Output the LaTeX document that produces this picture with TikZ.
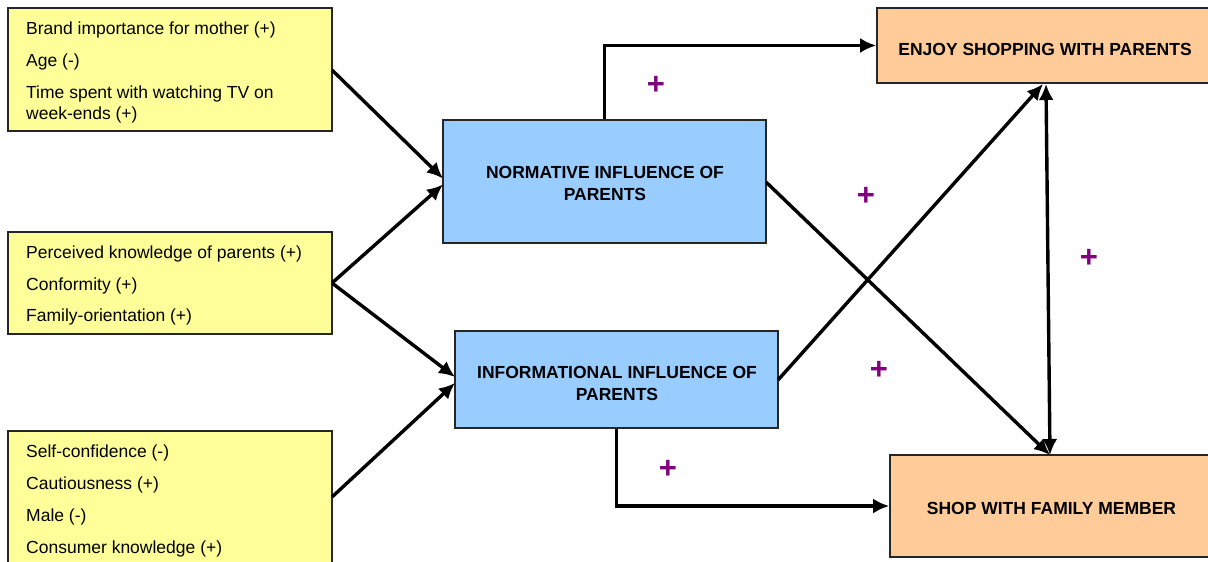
\documentclass[tikz,border=0pt]{standalone}
\usepackage{fontspec}
\setmainfont{Liberation Sans}
\usetikzlibrary{arrows.meta,calc}
\definecolor{ybox}{HTML}{FFFF99}
\definecolor{bbox}{HTML}{99CCFF}
\definecolor{obox}{HTML}{FFCC99}
\definecolor{plusc}{HTML}{800080}
\tikzset{
  factorbox/.style={draw=black!85, line width=1.6pt, fill=ybox, inner sep=0pt},
  midbox/.style={draw=black!85, line width=1.6pt, fill=bbox, inner sep=0pt},
  outbox/.style={draw=black!85, line width=1.6pt, fill=obox, inner sep=0pt},
  itemtxt/.style={anchor=west, inner sep=0pt, font=\fontsize{17.5}{21}\selectfont, align=left},
  boldtxt/.style={inner sep=0pt, font=\fontsize{17.5}{22}\selectfont\bfseries, align=center},
  plustxt/.style={inner sep=0pt, text=plusc, font=\fontsize{31}{31}\selectfont\bfseries},
  conn/.style={line width=3.4pt, -{Latex[length=16pt,width=15pt]}},
  conn2/.style={line width=3.4pt, {Latex[length=16pt,width=15pt]}-{Latex[length=16pt,width=15pt]}},
}
\begin{document}
\begin{tikzpicture}[x=1pt,y=-1pt]
\useasboundingbox (0,0) rectangle (1208,562);
\clip (0,0) rectangle (1208,562);
\fill[white] (0,0) rectangle (1208,562);
% boxes
\node[factorbox, minimum width=324pt, minimum height=123pt] (Y1) at (170,69.5) {};
\node[factorbox, minimum width=324pt, minimum height=102pt] (Y2) at (170,283) {};
\node[factorbox, minimum width=324pt, minimum height=168pt] (Y3) at (170,515) {};
\node[midbox, minimum width=323pt, minimum height=123pt] (B1) at (604.5,181.5) {};
\node[midbox, minimum width=323pt, minimum height=97pt] (B2) at (616.5,379.5) {};
\node[outbox, minimum width=363pt, minimum height=75pt] (O1) at (1058.5,45.5) {};
\node[outbox, minimum width=350pt, minimum height=102pt] (O2) at (1065,506) {};
% texts
\node[itemtxt] (t1) at (26,29.5) {Brand importance for mother (+)};
\node[itemtxt] (t2) at (26,61.5) {Age (-)};
\node[itemtxt] (t3) at (26,104) {Time spent with watching TV on\\week-ends (+)};
\node[itemtxt] (t4) at (26,253.5) {Perceived knowledge of parents (+)};
\node[itemtxt] (t5) at (26,285.5) {Conformity (+)};
\node[itemtxt] (t6) at (26,316.5) {Family-orientation (+)};
\node[itemtxt] (t7) at (26,452.5) {Self-confidence (-)};
\node[itemtxt] (t8) at (26,484.5) {Cautiousness (+)};
\node[itemtxt] (t9) at (26,516.5) {Male (-)};
\node[itemtxt] (t10) at (26,548.5) {Consumer knowledge (+)};
\node[boldtxt] (tb1) at (605,183) {NORMATIVE INFLUENCE OF\\PARENTS};
\node[boldtxt] (tb2) at (617,383) {INFORMATIONAL INFLUENCE OF\\PARENTS};
\node[boldtxt] (to1) at (1045,49) {ENJOY SHOPPING WITH PARENTS};
\node[boldtxt] (to2) at (1051.5,508) {SHOP WITH FAMILY MEMBER};
% anchor coordinates
\coordinate (y1o) at (332,70);
\coordinate (y2o) at (332,283);
\coordinate (y3o) at (332,497);
\coordinate (b1a) at (443,178.5);
\coordinate (b1b) at (443,184.5);
\coordinate (b2a) at (455,377);
\coordinate (b2b) at (455,383);
\coordinate (b1o) at (766,182);
\coordinate (b2o) at (778,380);
\coordinate (o1in) at (1043,84);
\coordinate (o1d) at (1046,84);
\coordinate (o2in) at (1050,455);
% connectors
\draw[conn] (y1o) -- (b1a);
\draw[conn] (y2o) -- (b1b);
\draw[conn] (y2o) -- (b2a);
\draw[conn] (y3o) -- (b2b);
\draw[conn] (B1.north) |- (O1.west);
\draw[conn] (B2.south) |- (O2.west);
\draw[conn] (b1o) -- (o2in);
\draw[conn] (b2o) -- (o1in);
\draw[conn2] (o1d) -- (o2in);
% plus signs
\node[plustxt] (p1) at (656,85) {+};
\node[plustxt] (p2) at (866,196) {+};
\node[plustxt] (p3) at (1089,258) {+};
\node[plustxt] (p4) at (879,370) {+};
\node[plustxt] (p5) at (668,469) {+};
\end{tikzpicture}
\end{document}
